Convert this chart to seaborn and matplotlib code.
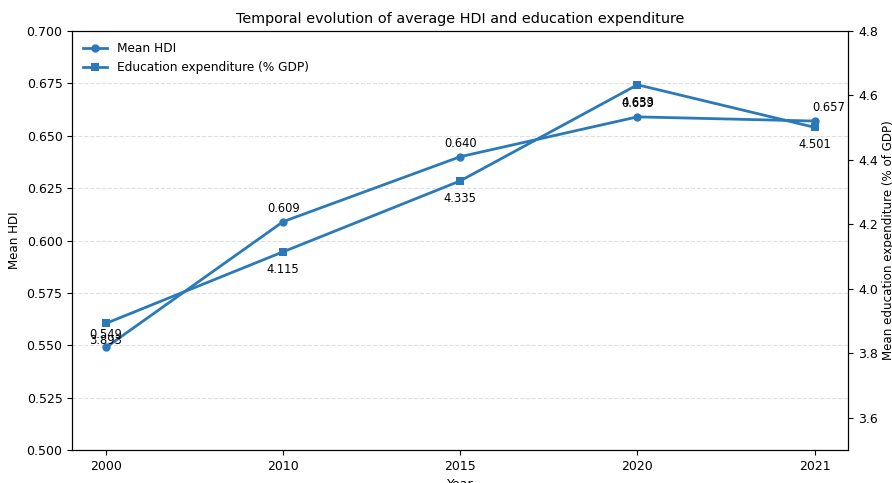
import pandas as pd
import matplotlib
matplotlib.use("Agg")
import matplotlib.pyplot as plt
import seaborn as sns

# values
years = ["2000", "2010", "2015", "2020", "2021"]
hdi_mean = [0.549, 0.609, 0.640, 0.659, 0.657]
edu_mean = [3.893, 4.115, 4.335, 4.633, 4.501]

df = pd.DataFrame({"Year": years, "HDI": hdi_mean, "Edu": edu_mean})

color = "#2a7ab9"

fig, ax1 = plt.subplots(figsize=(8.92, 4.83), dpi=100)
ax2 = ax1.twinx()

sns.lineplot(data=df, x="Year", y="HDI", ax=ax1, marker="o", color=color,
             linewidth=2, markersize=6, markeredgewidth=0, label="Mean HDI", legend=False)
sns.lineplot(data=df, x="Year", y="Edu", ax=ax2, marker="s", color=color,
             linewidth=2, markersize=6, markeredgewidth=0,
             label="Education expenditure (% GDP)", legend=False)

# value labels: HDI above, expenditure below
for i, v in enumerate(hdi_mean):
    dx = 10 if i == len(years) - 1 else 0
    ax1.annotate(f"{v:.3f}", (i, v), xytext=(dx, 9.5), textcoords="offset points",
                 ha="center", va="center", fontsize=8.3)
for i, v in enumerate(edu_mean):
    ax2.annotate(f"{v:.3f}", (i, v), xytext=(0, -12.5), textcoords="offset points",
                 ha="center", va="center", fontsize=8.3)

ax1.set_ylim(0.5, 0.7)
ax2.set_ylim(3.5, 4.8)
ax1.set_xlim(-0.19, 4.19)
ax1.set_xlabel("Year", fontsize=9)
ax1.set_ylabel("Mean HDI", fontsize=8.6)
ax2.set_ylabel("Mean education expenditure (% of GDP)", fontsize=8.6, labelpad=3)
ax1.tick_params(labelsize=9)
ax2.tick_params(labelsize=9)
ax1.grid(axis="y", linestyle="--", alpha=0.4)
ax1.set_title("Temporal evolution of average HDI and education expenditure", fontsize=10.4)

h1, l1 = ax1.get_legend_handles_labels()
h2, l2 = ax2.get_legend_handles_labels()
ax1.legend(h1 + h2, l1 + l2, loc="upper left", frameon=False, fontsize=8.7)

fig.subplots_adjust(left=0.081, right=0.951, top=0.936, bottom=0.068)
fig.savefig("out.png", dpi=100)
